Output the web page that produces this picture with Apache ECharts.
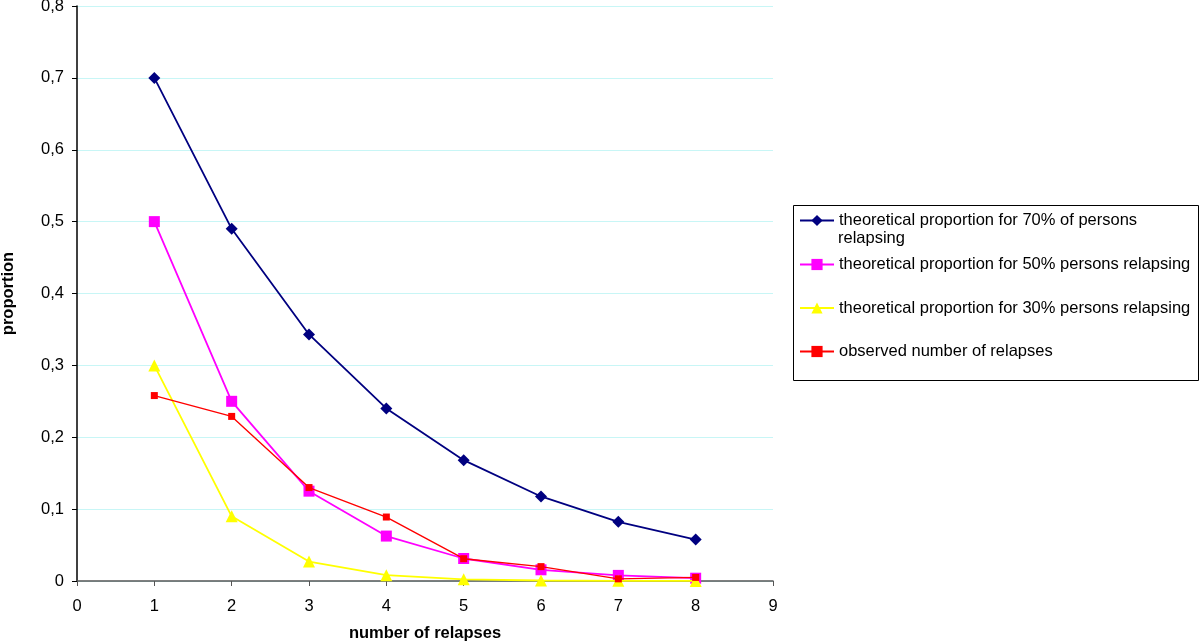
<!DOCTYPE html>
<html>
<head>
<meta charset="utf-8">
<script src="https://cdn.jsdelivr.net/npm/echarts@6/dist/echarts.min.js"></script>
<style>html,body{margin:0;padding:0;background:#fff}#c{width:1200px;height:642px}</style>
</head>
<body>
<div id="c"></div>
<script>
var relapses = [1, 2, 3, 4, 5, 6, 7, 8];
var p70 = [0.7, 0.49, 0.343, 0.2401, 0.1681, 0.1176, 0.0824, 0.0576];
var p50 = [0.5, 0.25, 0.125, 0.0625, 0.0313, 0.0156, 0.0078, 0.0039];
var p30 = [0.3, 0.09, 0.027, 0.0081, 0.0024, 0.0007, 0.0002, 0.0001];
var observed = [0.258, 0.229, 0.130, 0.089, 0.031, 0.020, 0.003, 0.005];
var seriesNames = [
  'theoretical proportion for 70% of persons relapsing',
  'theoretical proportion for 50% persons relapsing',
  'theoretical proportion for 30% persons relapsing',
  'observed number of relapses'
];
var legendLabels = [
  'theoretical proportion for 70% of persons',
  'theoretical proportion for 50% persons relapsing',
  'theoretical proportion for 30% persons relapsing',
  'observed number of relapses'
];
var xTicks = [0, 9, 1];
var yTicks = [0, 0.8, 0.1];

function pairs(vals) { return relapses.map(function (x, i) { return [x, vals[i]]; }); }
var FONT = '"Liberation Sans", Arial, sans-serif';
var colors = ['#000080', '#ff00ff', '#ffff00', '#ff0000'];
var symbols = ['diamond', 'rect', 'triangle', 'rect'];
var symSizes = [12, 11, 12, 7];
var widths = [1.8, 1.8, 1.8, 1.4];
var data = [p70, p50, p30, observed];
var legendY = [219, 263, 306.5, 350];

var chart = echarts.init(document.getElementById('c'), null, { renderer: 'canvas' });
var option = {
  animation: false,
  backgroundColor: '#ffffff',
  grid: { left: 77, right: 427, top: 6, bottom: 61, containLabel: false, outerBoundsMode: 'none' },
  xAxis: {
    type: 'value', min: xTicks[0], max: xTicks[1], interval: xTicks[2],
    name: 'number of relapses', nameLocation: 'middle', nameGap: 44,
    nameTextStyle: { fontFamily: FONT, fontSize: 16.5, fontWeight: 'bold', color: '#000' },
    axisLine: { lineStyle: { color: '#555', width: 1.5 } },
    axisTick: { show: true, length: 5, lineStyle: { color: '#555' } },
    axisLabel: { fontFamily: FONT, fontSize: 16.5, color: '#000', margin: 17 },
    splitLine: { show: false }
  },
  yAxis: {
    type: 'value', min: yTicks[0], max: yTicks[1], interval: yTicks[2],
    name: 'proportion', nameLocation: 'middle', nameGap: 60, nameRotate: 90,
    nameTextStyle: { fontFamily: FONT, fontSize: 16.5, fontWeight: 'bold', color: '#000' },
    axisLine: { show: true, lineStyle: { color: '#000', width: 1.5 } },
    axisTick: { show: true, length: 5, lineStyle: { color: '#000' } },
    axisLabel: {
      fontFamily: FONT, fontSize: 16.5, color: '#000', margin: 13,
      formatter: function (v) { return String(Math.round(v * 10) / 10).replace('.', ','); }
    },
    splitLine: { show: true, lineStyle: { color: '#c8f6f6', width: 1 } }
  },
  legend: seriesNames.map(function (n, i) {
    return {
      data: [n], left: 799, top: legendY[i] - 7, itemWidth: 34, itemHeight: 14,
      orient: 'vertical', padding: 0,
      formatter: function () { return legendLabels[i]; },
      textStyle: { fontFamily: FONT, fontSize: 16.5, color: '#000' }
    };
  }),
  graphic: [
    { type: 'rect', shape: { x: 793.5, y: 205.5, width: 405, height: 175 },
      style: { fill: 'none', stroke: '#000', lineWidth: 1 }, z: 10 },
    { type: 'text', x: 838, y: 238, style: { text: 'relapsing', font: '16.5px ' + FONT, fill: '#000', textVerticalAlign: 'middle' }, z: 10 }
  ],
  series: seriesNames.map(function (n, i) {
    return {
      name: n, type: 'line', data: pairs(data[i]),
      symbol: symbols[i], symbolSize: symSizes[i], showSymbol: true,
      itemStyle: { color: colors[i], borderWidth: 0 },
      lineStyle: { color: colors[i], width: widths[i] },
      z: 2 + i
    };
  })
};
chart.setOption(option);
</script>
</body>
</html>
